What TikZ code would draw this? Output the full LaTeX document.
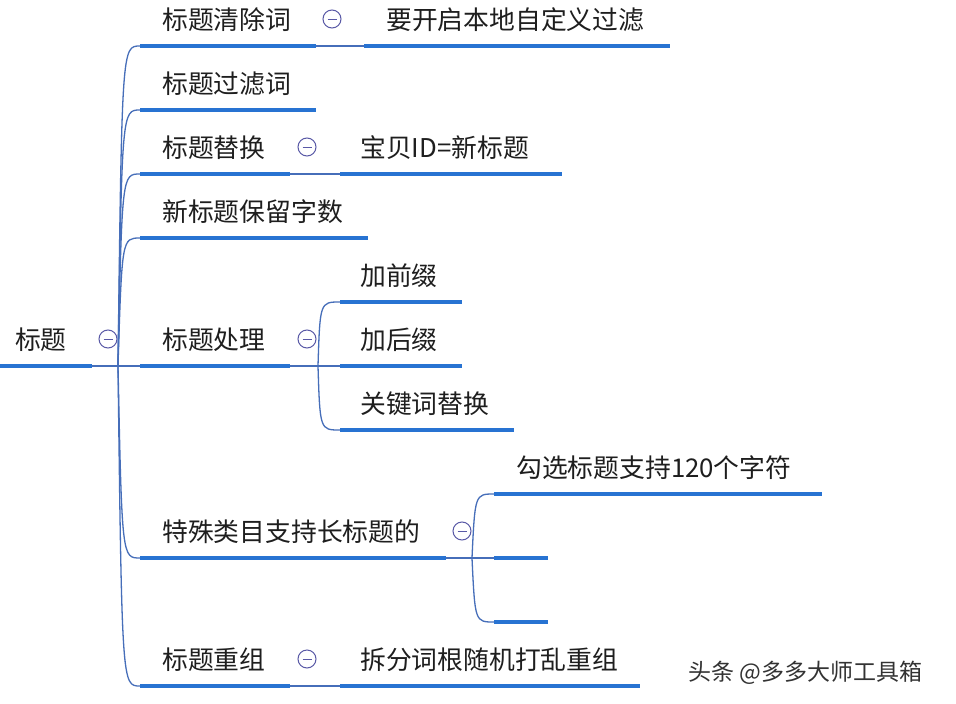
\documentclass[tikz,border=0pt]{standalone}
\usepackage{fontspec}
\newfontfamily\cjk{Noto Sans CJK SC}
\definecolor{ul}{RGB}{40,115,210}
\definecolor{cn}{RGB}{70,110,185}
\definecolor{tx}{RGB}{30,30,30}
\begin{document}
\begin{tikzpicture}[x=1pt,y=-1pt,
  lbl/.style={anchor=west,inner sep=0pt,font=\cjk\fontsize{25.8}{26}\selectfont,text=tx},
  uline/.style={draw=ul,line width=3.6pt},
  conn/.style={draw=cn,line width=1.3pt},
  fold/.style={circle,draw=gray!70!blue,line width=1pt,minimum size=18pt,inner sep=0pt}]
\useasboundingbox (0,0) rectangle (956,704);
\fill[white] (0,0) rectangle (956,704);
\tikzset{foldmark/.pic={\node[fold] {}; \draw[gray!70!blue,line width=1pt] (-4.5,0)--(4.5,0);}}
% root
\node[lbl] (root) at (15,340) {标题};
\draw[uline] (0,366) -- (92,366);
\pic at (108,339) {foldmark};
\coordinate (rj) at (118,366);
\draw[conn] (92,366) -- (rj);
\foreach \n/\t/\y/\e in {c1/标题清除词/46/316, c2/标题过滤词/110/316, c3/标题替换/174/290, c4/新标题保留字数/238/368, c5/标题处理/366/290, c6/特殊类目支持长标题的/558/446, c7/标题重组/686/290}{
  \node[lbl] (\n) at (162,\y-26) {\t};
  \coordinate (\n s) at (140,\y);
  \coordinate (\n e) at (\e,\y);
  \draw[uline] (\n s) -- (\n e);
  \draw[conn] (rj) .. controls (122,\y) .. (\n s);
}
\pic at (332,19) {foldmark};
\pic at (307,147) {foldmark};
\pic at (307,339) {foldmark};
\pic at (462,531) {foldmark};
\pic at (307,659) {foldmark};
\node[lbl] (d1) at (386,20) {要开启本地自定义过滤};
\coordinate (d1s) at (364,46);
\draw[uline] (d1s) -- (670,46);
\draw[conn] (c1e) -- (d1s);
\node[lbl] (d3) at (360,148) {宝贝ID=新标题};
\coordinate (d3s) at (340,174);
\draw[uline] (d3s) -- (562,174);
\draw[conn] (c3e) -- (d3s);
\coordinate (j5) at (318,366);
\draw[conn] (c5e) -- (j5);
\foreach \n/\t/\y/\e in {p1/加前缀/302/462, p2/加后缀/366/462, p3/关键词替换/430/514}{
  \node[lbl] (\n) at (360,\y-26) {\t};
  \coordinate (\n s) at (340,\y);
  \draw[uline] (\n s) -- (\e,\y);
  \draw[conn] (j5) .. controls (320,\y) .. (\n s);
}
\coordinate (j6) at (472,558);
\draw[conn] (c6e) -- (j6);
\node[lbl] (q1) at (516,468) {勾选标题支持120个字符};
\foreach \n/\y/\e in {q1/494/822, q2/558/548, q3/622/548}{
  \coordinate (\n s) at (494,\y);
  \draw[uline] (\n s) -- (\e,\y);
  \draw[conn] (j6) .. controls (475,\y) .. (\n s);
}
\node[lbl] (d7) at (360,660) {拆分词根随机打乱重组};
\coordinate (d7s) at (340,686);
\draw[uline] (d7s) -- (640,686);
\draw[conn] (c7e) -- (d7s);
\node[anchor=west,inner sep=0pt,font=\cjk\fontsize{23}{23}\selectfont,text=black!80] (wm) at (688,673) {头条 @多多大师工具箱};
\end{tikzpicture}
\end{document}
